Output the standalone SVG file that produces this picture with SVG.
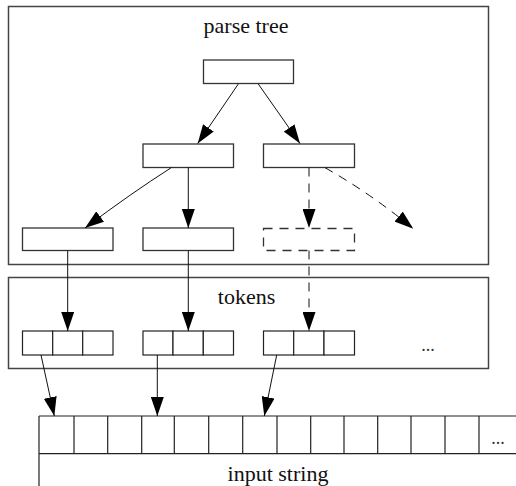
<svg xmlns="http://www.w3.org/2000/svg" width="516" height="486" viewBox="0 0 516 486">
<defs>
<marker id="ah" markerUnits="userSpaceOnUse" markerWidth="19" markerHeight="13" refX="19" refY="6.5" orient="auto" viewBox="0 0 19 13">
<path d="M0,0 L19,6.5 L0,13 z" fill="#000"/>
</marker>
<style>
.frame{fill:none;stroke:#444;stroke-width:1.5}
.box{fill:#fff;stroke:#333;stroke-width:1.3}
.dbox{fill:none;stroke:#333;stroke-width:1.3;stroke-dasharray:9,7}
.cell{fill:#fff;stroke:#222;stroke-width:1.2}
.c{fill:none;stroke:#111;stroke-width:1;marker-end:url(#ah)}
.d{stroke-dasharray:9,7}
.t{font-family:"Liberation Serif",serif;font-size:22px;fill:#111;text-anchor:middle}
.dots{font-family:"Liberation Serif",serif;font-size:18px;fill:#333;text-anchor:middle}
</style>
</defs>
<rect width="516" height="486" fill="#fff"/>
<g id="parse-tree">
<rect class="frame" x="8.5" y="6.5" width="480" height="258"/>
<text class="t" x="246" y="33">parse tree</text>
</g>
<g id="tokens">
<rect class="frame" x="8.5" y="277.5" width="480" height="91"/>
<text class="t" x="246.5" y="304">tokens</text>
<text class="dots" x="428" y="351">...</text>
</g>
<g id="root"><rect class="box" x="203.5" y="60" width="90" height="23.5"/></g>
<g id="mid-left"><rect class="box" x="143" y="144" width="90.5" height="23.5"/></g>
<g id="mid-right"><rect class="box" x="263.5" y="144" width="91" height="23.5"/></g>
<g id="leaf-1"><rect class="box" x="22.5" y="228" width="90.5" height="22.5"/></g>
<g id="leaf-2"><rect class="box" x="143" y="228" width="90.5" height="22.5"/></g>
<g id="leaf-3"><rect class="dbox" x="263.5" y="228.5" width="91" height="22"/></g>
<g id="token-1">
<rect class="cell" x="22.5" y="331" width="30.2" height="24"/>
<rect class="cell" x="52.7" y="331" width="30" height="24"/>
<rect class="cell" x="82.7" y="331" width="30.3" height="24"/>
</g>
<g id="token-2">
<rect class="cell" x="143" y="331" width="30" height="24"/>
<rect class="cell" x="173" y="331" width="30.3" height="24"/>
<rect class="cell" x="203.3" y="331" width="30.2" height="24"/>
</g>
<g id="token-3">
<rect class="cell" x="263.5" y="331" width="30.2" height="24"/>
<rect class="cell" x="293.7" y="331" width="30.3" height="24"/>
<rect class="cell" x="324" y="331" width="30.5" height="24"/>
</g>
<g id="input-string">
<path d="M39,416 H517 M39,453.7 H517 M39,416 V486" fill="none" stroke="#222" stroke-width="1.2"/>
<path d="M74,416V453.7 M107.7,416V453.7 M141.7,416V453.7 M174.3,416V453.7 M208.7,416V453.7 M242.7,416V453.7 M277,416V453.7 M310.7,416V453.7 M344,416V453.7 M377.7,416V453.7 M411,416V453.7 M445,416V453.7 M479,416V453.7" fill="none" stroke="#222" stroke-width="1.2"/>
<text class="dots" x="498" y="444">...</text>
<text class="t" x="278" y="481">input string</text>
</g>
<g id="connectors">
<line class="c" x1="238.3" y1="84" x2="197.7" y2="143.5"/>
<line class="c" x1="258.3" y1="84" x2="300" y2="143.5"/>
<path class="c" d="M171.5,167.5 Q130,194 85,228"/>
<line class="c" x1="188.3" y1="167.5" x2="188.3" y2="228"/>
<line class="c d" x1="309" y1="167.5" x2="309" y2="228"/>
<path class="c d" d="M325,167.7 Q370,193 413.3,228.7"/>
<line class="c" x1="67.7" y1="250.5" x2="67.7" y2="331"/>
<line class="c" x1="188.3" y1="250.5" x2="188.3" y2="331"/>
<line class="c d" x1="309" y1="250.5" x2="309" y2="331"/>
<line class="c" x1="41" y1="355" x2="54.3" y2="416"/>
<line class="c" x1="157.3" y1="355" x2="157.3" y2="416"/>
<line class="c" x1="276.7" y1="355" x2="264.3" y2="416"/>
</g>
</svg>
